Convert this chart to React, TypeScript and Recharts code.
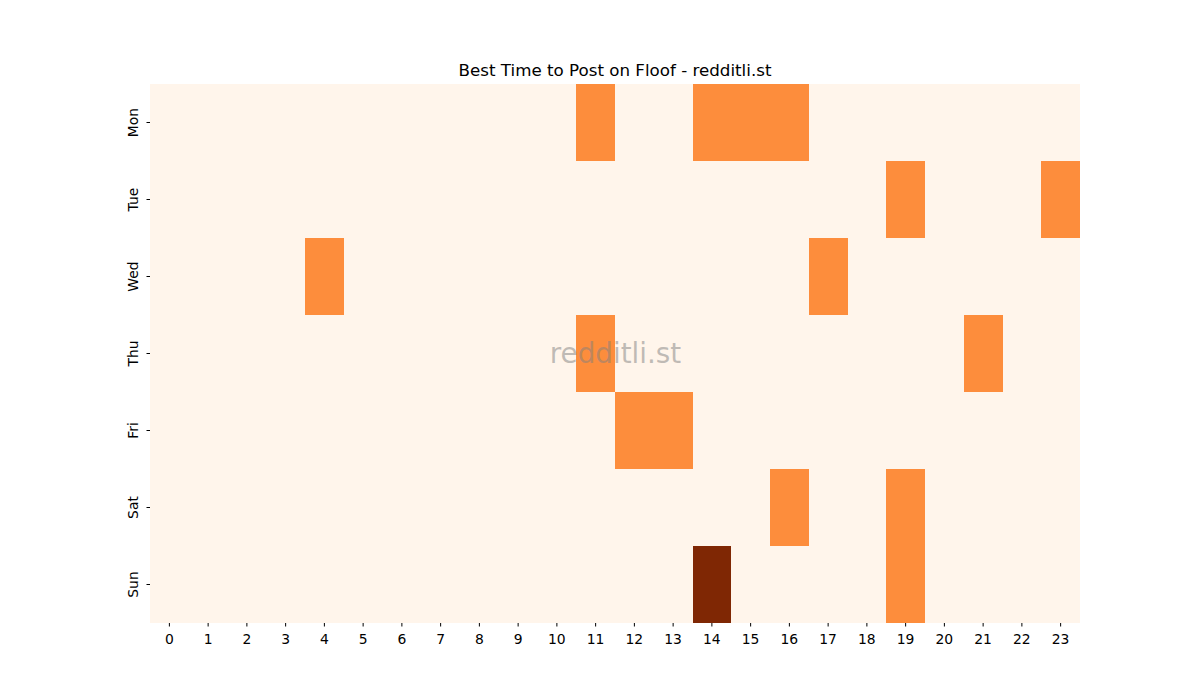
import React from 'react';
import { BarChart, Bar, Cell, XAxis, YAxis } from 'recharts';

const days = ['Mon', 'Tue', 'Wed', 'Thu', 'Fri', 'Sat', 'Sun'];
const hours = [0, 1, 2, 3, 4, 5, 6, 7, 8, 9, 10, 11, 12, 13, 14, 15, 16, 17, 18, 19, 20, 21, 22, 23];

// posts per hour, one list per weekday
const mon = [0, 0, 0, 0, 0, 0, 0, 0, 0, 0, 0, 1, 0, 0, 1, 1, 1, 0, 0, 0, 0, 0, 0, 0];
const tue = [0, 0, 0, 0, 0, 0, 0, 0, 0, 0, 0, 0, 0, 0, 0, 0, 0, 0, 0, 1, 0, 0, 0, 1];
const wed = [0, 0, 0, 0, 1, 0, 0, 0, 0, 0, 0, 0, 0, 0, 0, 0, 0, 1, 0, 0, 0, 0, 0, 0];
const thu = [0, 0, 0, 0, 0, 0, 0, 0, 0, 0, 0, 1, 0, 0, 0, 0, 0, 0, 0, 0, 0, 1, 0, 0];
const fri = [0, 0, 0, 0, 0, 0, 0, 0, 0, 0, 0, 0, 1, 1, 0, 0, 0, 0, 0, 0, 0, 0, 0, 0];
const sat = [0, 0, 0, 0, 0, 0, 0, 0, 0, 0, 0, 0, 0, 0, 0, 0, 1, 0, 0, 1, 0, 0, 0, 0];
const sun = [0, 0, 0, 0, 0, 0, 0, 0, 0, 0, 0, 0, 0, 0, 2, 0, 0, 0, 0, 1, 0, 0, 0, 0];

const counts: Record<string, number[]> = { Mon: mon, Tue: tue, Wed: wed, Thu: thu, Fri: fri, Sat: sat, Sun: sun };

// Oranges colormap, 0..2
const palette = ['#fff5eb', '#fd8d3c', '#7f2704'];

// every cell is one unit tall, stacked Sun (bottom) to Mon (top)
const data = hours.map((h) => {
  const row: Record<string, number | string> = { hour: String(h) };
  days.forEach((d) => { row[d] = 1; });
  return row;
});

const stackOrder = [...days].reverse();
const dayTicks = days.map((_, i) => days.length - 0.5 - i);

const font = 'DejaVu Sans, sans-serif';

const DayTick = (props: any) => {
  const { y, payload } = props;
  const label = days[Math.round(days.length - 0.5 - payload.value)];
  return (
    <text x={138} y={y} transform={`rotate(-90 138 ${y})`} textAnchor="middle" fontSize={13.9} fontFamily={font} fill="#000">
      {label}
    </text>
  );
};

export default function App() {
  return (
    <div style={{ position: 'absolute', left: 0, top: 0, width: 1200, height: 700, background: '#fff' }}>
      <BarChart
        width={1200}
        height={700}
        data={data}
        margin={{ top: 84, right: 120, bottom: 0, left: 0 }}
        barCategoryGap={0}
        barGap={0}
      >
        <XAxis
          dataKey="hour"
          axisLine={false}
          tickSize={3.5}
          tickMargin={8}
          tickLine={{ stroke: '#000' }}
          height={77}
          tick={{ fontSize: 13.9, fontFamily: font, fill: '#000' }}
          interval={0}
        />
        <YAxis
          type="number"
          domain={[0, 7]}
          ticks={dayTicks}
          width={150}
          axisLine={false}
          tickSize={3.5}
          tickLine={{ stroke: '#000' }}
          tick={<DayTick />}
          interval={0}
        />
        {stackOrder.map((d) => (
          <Bar key={d} dataKey={d} stackId="week" isAnimationActive={false} shapeRendering="crispEdges">
            {counts[d].map((v, i) => (
              <Cell key={`${d}-${i}`} fill={palette[v]} />
            ))}
          </Bar>
        ))}
      </BarChart>
      <svg width={1200} height={700} style={{ position: 'absolute', left: 0, top: 0, pointerEvents: 'none' }}>
        <text x={615} y={76} textAnchor="middle" fontSize={16.7} fontFamily={font} fill="#000">
          Best Time to Post on Floof - redditli.st
        </text>
        <text x={615.5} y={363} textAnchor="middle" fontSize={27.8} fontFamily={font} fill="gray" fillOpacity={0.5}>
          redditli.st
        </text>
      </svg>
    </div>
  );
}
